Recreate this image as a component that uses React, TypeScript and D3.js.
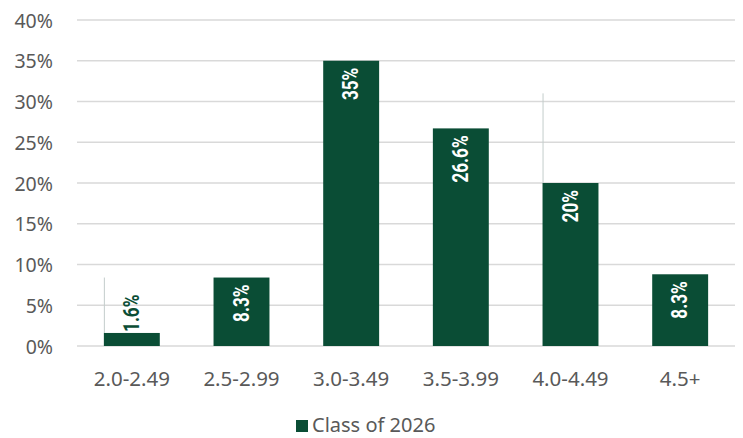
import React from "react";
import * as d3 from "d3";

const categories = ["2.0-2.49", "2.5-2.99", "3.0-3.49", "3.5-3.99", "4.0-4.49", "4.5+"];
const values = [1.6, 8.4, 35, 26.7, 20, 8.8];
const labels = ["1.6%", "8.3%", "35%", "26.6%", "20%", "8.3%"];
const yTicks = [0, 5, 10, 15, 20, 25, 30, 35, 40];
const seriesName = "Class of 2026";
// thin stray leader lines visible in the reference: [category, top value]
const leaderCats = ["2.0-2.49", "4.0-4.49"];
const leaderTops = [8.4, 31];

const W = 743;
const H = 438;
const GREEN = "#0a4d35";
const TEXT = "#595959";

export default function App() {
  const x = d3
    .scaleBand<string>()
    .domain(categories)
    .range([77, 735])
    .paddingInner(0.49)
    .paddingOuter(0.245);
  const y = d3.scaleLinear().domain([0, 40]).range([346, 20]);
  const bw = x.bandwidth();
  const labelFont = "Roboto, 'Liberation Sans', sans-serif";
  const axisFont = "'Noto Sans', 'Open Sans', sans-serif";

  return (
    <svg
      width={W}
      height={H}
      viewBox={`0 0 ${W} ${H}`}
      style={{ position: "absolute", left: 0, top: 0, background: "#fff" }}
    >
      {yTicks.map((t) => (
        <g key={t}>
          <line x1={77} x2={735} y1={y(t)} y2={y(t)} stroke="#d9d9d9" strokeWidth={1.5} />
          <text
            x={53}
            y={y(t)}
            textAnchor="end"
            dominantBaseline="central"
            fontFamily={axisFont}
            fontSize={19.5}
            fill={TEXT}
          >
            {t}%
          </text>
        </g>
      ))}
      {leaderCats.map((c, i) => {
        const idx = categories.indexOf(c);
        const lx = (x(c) as number) + 0.5;
        return (
          <line
            key={c}
            x1={lx}
            x2={lx}
            y1={y(leaderTops[i])}
            y2={y(values[idx])}
            stroke="#c3cdcb"
            strokeWidth={1}
          />
        );
      })}
      {categories.map((c, i) => {
        const bx = x(c) as number;
        const top = y(values[i]);
        const h = y(0) - top;
        const cx = bx + bw / 2;
        const inside = h > 50;
        const ty = inside ? top + 7 : top - 1;
        return (
          <g key={c}>
            <rect x={bx} y={top} width={bw} height={h} fill={GREEN} />
            <text
              transform={`translate(${cx},${ty}) rotate(-90) scale(0.78,1)`}
              textAnchor={inside ? "end" : "start"}
              dominantBaseline="central"
              fontFamily={labelFont}
              fontWeight="bold"
              fontSize={22}
              fill={inside ? "#ffffff" : GREEN}
            >
              {labels[i]}
            </text>
            <text
              x={cx}
              y={378}
              textAnchor="middle"
              dominantBaseline="central"
              fontFamily={axisFont}
              fontSize={20.5}
              fill={TEXT}
            >
              {c}
            </text>
          </g>
        );
      })}
      <rect x={296} y={420} width={12} height={12} fill={GREEN} />
      <text
        x={312}
        y={424}
        dominantBaseline="central"
        fontFamily={axisFont}
        fontSize={20}
        fill={TEXT}
      >
        {seriesName}
      </text>
    </svg>
  );
}
